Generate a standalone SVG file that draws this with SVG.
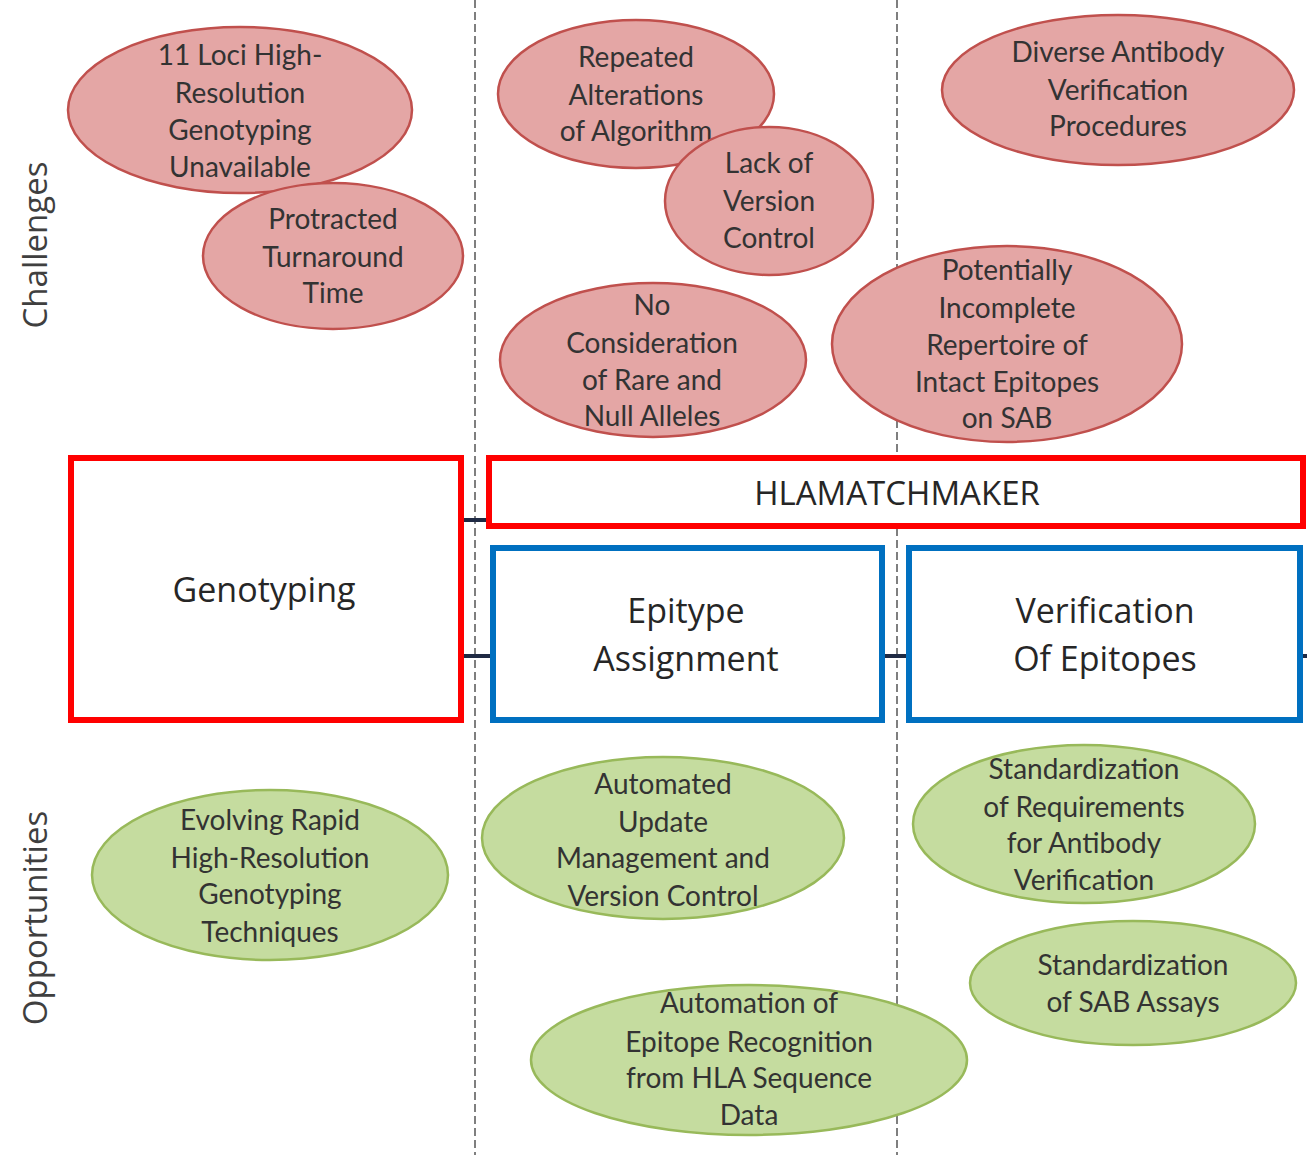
<svg xmlns="http://www.w3.org/2000/svg" width="1307" height="1155" viewBox="0 0 1307 1155">
<style>
.t{font-family:Lato,"Open Sans","Liberation Sans",sans-serif;font-size:28px;fill:#333;text-anchor:middle}
.bt{font-family:"Open Sans",Lato,"Liberation Sans",sans-serif;font-size:34px;fill:#262626;text-anchor:middle}
.side{font-family:"Open Sans",Lato,"Liberation Sans",sans-serif;font-size:33px;fill:#3f3f3f;text-anchor:middle}
.ch{fill:#e4a6a5;stroke:#c0504d;stroke-width:2.5}
.op{fill:#c5dc9f;stroke:#98b95a;stroke-width:2.5}
.red{fill:#fff;stroke:#ff0000;stroke-width:6}
.blue{fill:#fff;stroke:#0070c0;stroke-width:6}
.dash{stroke:#7f7f7f;stroke-width:2;stroke-dasharray:8 4;fill:none}
.con{stroke:#1f2a44;stroke-width:4}
</style>
<rect width="1307" height="1155" fill="#fff"/>
<g id="dividers">
<line class="dash" x1="475" y1="0" x2="475" y2="1155"/>
<line class="dash" x1="897" y1="0" x2="897" y2="1155"/>
</g>
<g id="connectors">
<line class="con" x1="461" y1="520" x2="489" y2="520"/>
<line class="con" x1="461" y1="656" x2="493" y2="656"/>
<line class="con" x1="882" y1="656" x2="909" y2="656"/>
<line class="con" x1="1300" y1="656" x2="1307" y2="656"/>
</g>
<text class="side" transform="translate(47,245) rotate(-90)">Challenges</text>
<text class="side" transform="translate(47,918) rotate(-90)">Opportunities</text>
<g id="genotyping"><rect class="red" x="71" y="458" width="390" height="262"/><text class="bt" x="264" y="602">Genotyping</text></g>
<g id="hlamatchmaker"><rect class="red" x="489" y="458" width="814" height="68"/><text class="bt" x="897" y="505" style="font-size:33px">HLAMATCHMAKER</text></g>
<g id="epitype"><rect class="blue" x="493" y="548" width="389" height="172"/><text class="bt" x="686" y="623">Epitype</text><text class="bt" x="686" y="671">Assignment</text></g>
<g id="verification"><rect class="blue" x="909" y="548" width="391" height="172"/><text class="bt" x="1105" y="623">Verification</text><text class="bt" x="1105" y="671">Of Epitopes</text></g>
<g id="c1"><ellipse class="ch" cx="240" cy="110" rx="172" ry="83"/><text class="t" x="240" y="65">11 Loci High-</text><text class="t" x="240" y="103">Resolution</text><text class="t" x="240" y="140">Genotyping</text><text class="t" x="240" y="177">Unavailable</text></g>
<g id="c2"><ellipse class="ch" cx="333" cy="256" rx="130" ry="73"/><text class="t" x="333" y="229">Protracted</text><text class="t" x="333" y="267">Turnaround</text><text class="t" x="333" y="303">Time</text></g>
<g id="c3"><ellipse class="ch" cx="636" cy="94" rx="138" ry="74"/><text class="t" x="636" y="67">Repeated</text><text class="t" x="636" y="105">Alterations</text><text class="t" x="636" y="141">of Algorithm</text></g>
<g id="c4"><ellipse class="ch" cx="769" cy="201" rx="104" ry="74"/><text class="t" x="769" y="173">Lack of</text><text class="t" x="769" y="211">Version</text><text class="t" x="769" y="248">Control</text></g>
<g id="c5"><ellipse class="ch" cx="653" cy="360" rx="153" ry="77"/><text class="t" x="652" y="315">No</text><text class="t" x="652" y="353">Consideration</text><text class="t" x="652" y="390">of Rare and</text><text class="t" x="652" y="426">Null Alleles</text></g>
<g id="c6"><ellipse class="ch" cx="1007" cy="344" rx="175" ry="98"/><text class="t" x="1007" y="280">Potentially</text><text class="t" x="1007" y="318">Incomplete</text><text class="t" x="1007" y="355">Repertoire of</text><text class="t" x="1007" y="392">Intact Epitopes</text><text class="t" x="1007" y="428">on SAB</text></g>
<g id="c7"><ellipse class="ch" cx="1118" cy="90" rx="176" ry="75"/><text class="t" x="1118" y="62">Diverse Antibody</text><text class="t" x="1118" y="100">Verification</text><text class="t" x="1118" y="136">Procedures</text></g>
<g id="o1"><ellipse class="op" cx="270" cy="875" rx="178" ry="85"/><text class="t" x="270" y="830">Evolving Rapid</text><text class="t" x="270" y="868">High-Resolution</text><text class="t" x="270" y="904">Genotyping</text><text class="t" x="270" y="942">Techniques</text></g>
<g id="o2"><ellipse class="op" cx="663" cy="838" rx="181" ry="81"/><text class="t" x="663" y="794">Automated</text><text class="t" x="663" y="832">Update</text><text class="t" x="663" y="868">Management and</text><text class="t" x="663" y="906">Version Control</text></g>
<g id="o3"><ellipse class="op" cx="1084" cy="824" rx="171" ry="79"/><text class="t" x="1084" y="779">Standardization</text><text class="t" x="1084" y="817">of Requirements</text><text class="t" x="1084" y="853">for Antibody</text><text class="t" x="1084" y="890">Verification</text></g>
<g id="o4"><ellipse class="op" cx="1133" cy="983" rx="163" ry="62"/><text class="t" x="1133" y="975">Standardization</text><text class="t" x="1133" y="1012">of SAB Assays</text></g>
<g id="o5"><ellipse class="op" cx="749" cy="1060" rx="218" ry="75"/><text class="t" x="749" y="1013">Automation of</text><text class="t" x="749" y="1052">Epitope Recognition</text><text class="t" x="749" y="1088">from HLA Sequence</text><text class="t" x="749" y="1125">Data</text></g>
</svg>
